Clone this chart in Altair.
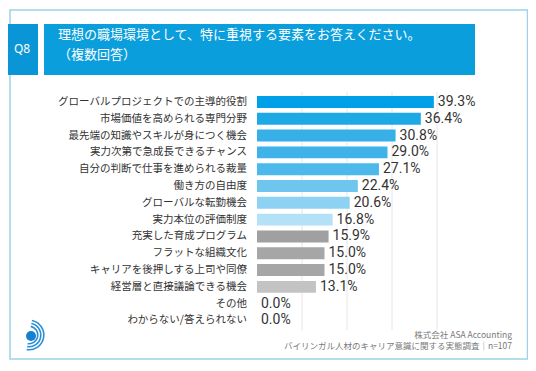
import altair as alt
import pandas as pd

categories = [
    "グローバルプロジェクトでの主導的役割",
    "市場価値を高められる専門分野",
    "最先端の知識やスキルが身につく機会",
    "実力次第で急成長できるチャンス",
    "自分の判断で仕事を進められる裁量",
    "働き方の自由度",
    "グローバルな転勤機会",
    "実力本位の評価制度",
    "充実した育成プログラム",
    "フラットな組織文化",
    "キャリアを後押しする上司や同僚",
    "経営層と直接議論できる機会",
    "その他",
    "わからない/答えられない",
]
values = [39.3, 36.4, 30.8, 29.0, 27.1, 22.4, 20.6, 16.8, 15.9, 15.0, 15.0, 13.1, 0.0, 0.0]
bar_colors = [
    "#00a0e9", "#1ea8e6", "#37b0e8", "#3fb3e9", "#4db9eb", "#6ec5ee",
    "#8ed2f3", "#b3e1f7", "#a0a0a0", "#a6a6a6", "#a6a6a6", "#c3c3c3",
    "#c3c3c3", "#c3c3c3",
]
grid_ticks = [10, 20, 30, 40]
title_lines = ["理想の職場環境として、特に重視する要素をお答えください。", "（複数回答）"]
question = "Q8"
footer_lines = ["株式会社 ASA Accounting", "バイリンガル人材のキャリア意識に関する実態調査｜n=107"]

df = pd.DataFrame({
    "cat": categories,
    "val": values,
    "label": [f"{v:.1f}%" for v in values],
})
grid_df = pd.DataFrame({"t": grid_ticks})

JP = "Noto Sans CJK JP"

xs = alt.Scale(domain=[0, 50], range=[249, 474])
ys = alt.Scale(domain=categories, range=[85.6, 320.8], paddingInner=0.29, paddingOuter=0.14)

one = pd.DataFrame({"a": [0]})

border = alt.Chart(one).mark_rect(fill="white", stroke="#9fd2e6", strokeWidth=1.5).encode(
    x=alt.value(2), x2=alt.value(519.5), y=alt.value(2), y2=alt.value(351)
)
qbox = alt.Chart(one).mark_rect(fill="#0a96d6").encode(
    x=alt.value(0), x2=alt.value(30), y=alt.value(16), y2=alt.value(67)
)
tbox = alt.Chart(one).mark_rect(fill="#0b9edc").encode(
    x=alt.value(36), x2=alt.value(467), y=alt.value(16), y2=alt.value(67)
)
qtext = alt.Chart(one).mark_text(
    text=question, color="white", fontSize=12, font="Noto Sans", align="center", baseline="middle"
).encode(x=alt.value(14), y=alt.value(41))
t1 = alt.Chart(one).mark_text(
    text=title_lines[0], color="white", fontSize=13, font=JP, align="left", baseline="middle"
).encode(x=alt.value(50), y=alt.value(27))
t2 = alt.Chart(one).mark_text(
    text=title_lines[1], color="white", fontSize=13, font=JP, align="left", baseline="middle"
).encode(x=alt.value(50), y=alt.value(47))

grid = alt.Chart(grid_df).mark_rule(color="#e6e6e6", strokeWidth=1).encode(
    x=alt.X("t:Q", scale=xs, axis=None),
    y=alt.value(84), y2=alt.value(322),
)

bars = alt.Chart(df).mark_bar().encode(
    x=alt.X("val:Q", scale=xs, axis=None),
    x2=alt.datum(0),
    y=alt.Y("cat:N", scale=ys, axis=None, sort=categories),
    color=alt.Color("cat:N", scale=alt.Scale(domain=categories, range=bar_colors), legend=None),
)
vals = alt.Chart(df).mark_text(
    align="left", baseline="middle", dx=4, fontSize=14, font="Roboto", fontWeight=400,
    color="#333333"
).encode(
    x=alt.X("val:Q", scale=xs, axis=None),
    y=alt.Y("cat:N", scale=ys, axis=None, sort=categories),
    text="label:N",
)
cats = alt.Chart(df).mark_text(
    align="right", baseline="middle", fontSize=10.5, font=JP, color="#333333"
).encode(
    x=alt.value(239),
    y=alt.Y("cat:N", scale=ys, axis=None, sort=categories),
    text="cat:N",
)

f1 = alt.Chart(one).mark_text(
    text=footer_lines[0], color="#7a7a7a", fontSize=8.5, font=JP, align="right", baseline="middle"
).encode(x=alt.value(504), y=alt.value(327))
f2 = alt.Chart(one).mark_text(
    text=footer_lines[1], color="#7a7a7a", fontSize=8.5, font=JP, align="right", baseline="middle"
).encode(x=alt.value(504), y=alt.value(338))

dot = alt.Chart(one).mark_circle(color="#1580d0", opacity=1, size=100).encode(
    x=alt.value(23), y=alt.value(328)
)
arcs = [
    alt.Chart(one).mark_arc(radius=r, radius2=r + 1.6, theta=0.2, theta2=3.3, color="#2a8fd6").encode(
        x=alt.value(21), y=alt.value(327)
    )
    for r in [8, 11, 14]
]

chart = alt.layer(
    border, qbox, tbox, qtext, t1, t2, grid, bars, vals, cats, f1, f2, dot, *arcs
).properties(
    width=520, height=354, padding=0, autosize=alt.AutoSizeParams(type="none")
).configure_view(stroke=None)

chart.save("out.html", embed_options={"renderer": "svg", "actions": False})
